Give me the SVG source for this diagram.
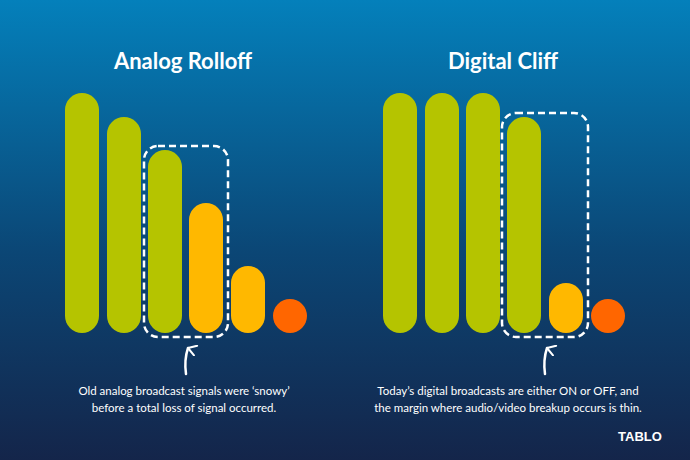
<svg xmlns="http://www.w3.org/2000/svg" width="690" height="460" viewBox="0 0 690 460">
<defs>
<linearGradient id="bg" x1="0" y1="0" x2="0" y2="1"><stop offset="0" stop-color="#0480bb"/><stop offset="0.55" stop-color="#0b4675"/><stop offset="1" stop-color="#14254a"/></linearGradient>
<marker id="ah" viewBox="0 0 12 12" refX="6" refY="2" markerWidth="12" markerHeight="12" orient="auto-start-reverse" markerUnits="userSpaceOnUse"><path d="M1,10 L6,2 L11,10" fill="none" stroke="#fff" stroke-width="2" stroke-linecap="round" stroke-linejoin="round"/></marker>
</defs>
<style>
.g{fill:#b5c400}.y{fill:#ffb800}.o{fill:#ff6600}
.box{fill:none;stroke:#fff;stroke-width:2.5;stroke-dasharray:7 4}
.t{font-family:Lato,"Open Sans",sans-serif;font-weight:bold;font-size:22px;fill:#fff;text-anchor:middle}
.c{font-family:Lato,"Open Sans",sans-serif;font-size:11.5px;fill:#fff;text-anchor:middle}
.arr{stroke:#fff;stroke-width:2.5;fill:none;stroke-linecap:round}
</style>
<rect width="690" height="460" fill="url(#bg)"/>
<g id="analog">
<text class="t" x="183" y="69">Analog Rolloff</text>
<rect class="g" x="65" y="93" width="34" height="240" rx="17"/>
<rect class="g" x="107" y="117" width="34" height="216" rx="17"/>
<rect class="g" x="148" y="150" width="34" height="183" rx="17"/>
<rect class="y" x="189" y="203" width="34" height="130" rx="17"/>
<rect class="y" x="231" y="266" width="34" height="67" rx="17"/>
<circle class="o" cx="290" cy="316" r="17"/>
<rect class="box" x="144" y="146" width="84" height="191" rx="14"/>
<text class="c" x="184" y="395">Old analog broadcast signals were ‘snowy’</text>
<text class="c" x="184" y="412">before a total loss of signal occurred.</text>
</g>
<g id="digital">
<text class="t" x="503" y="69">Digital Cliff</text>
<rect class="g" x="383" y="93" width="34" height="240" rx="17"/>
<rect class="g" x="425" y="93" width="34" height="240" rx="17"/>
<rect class="g" x="466" y="93" width="34" height="240" rx="17"/>
<rect class="g" x="507" y="117" width="34" height="216" rx="17"/>
<rect class="y" x="549" y="283" width="34" height="50" rx="17"/>
<circle class="o" cx="608" cy="316" r="17"/>
<rect class="box" x="502" y="113" width="86" height="224" rx="14"/>
<text class="c" x="508" y="395">Today’s digital broadcasts are either ON or OFF, and</text>
<text class="c" x="508" y="412">the margin where audio/video breakup occurs is thin.</text>
</g>
<g id="connectors">
<path class="arr" d="M186,374 Q184,360 188,348" marker-end="url(#ah)"/>
<path class="arr" d="M545,374 Q543,360 547,348" marker-end="url(#ah)"/>
</g>
<g id="logo"><text x="640" y="441" font-family="'Liberation Sans',sans-serif" font-weight="bold" font-size="13" fill="#fff" text-anchor="middle">TABLO</text></g>
</svg>
